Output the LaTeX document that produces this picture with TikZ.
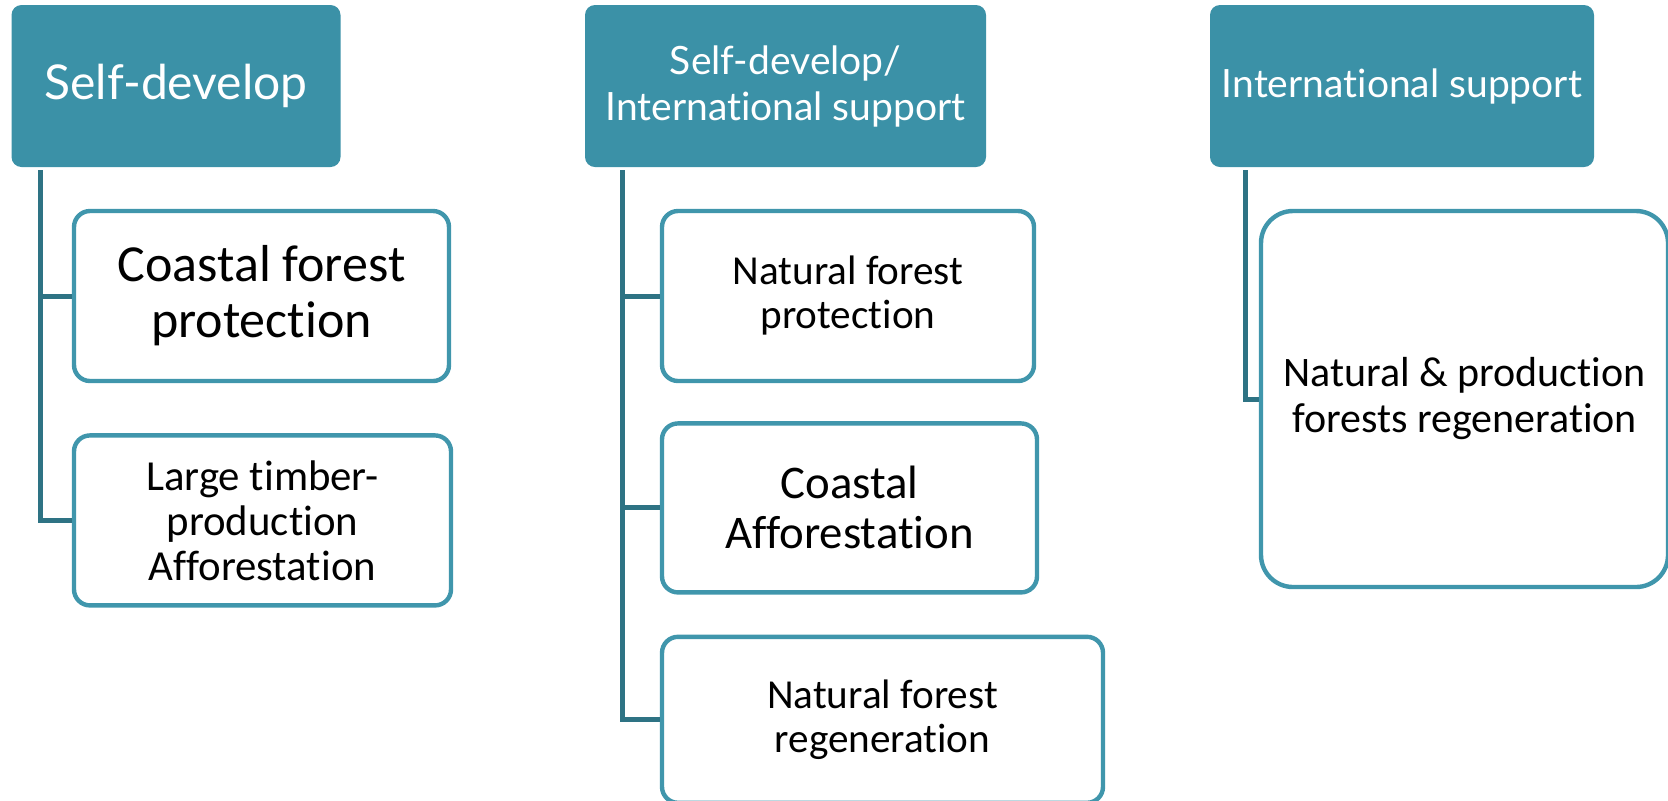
\documentclass[tikz,border=0pt]{standalone}
\usepackage{fontspec}
\setmainfont{Carlito}[Ligatures=NoCommon]
\newfontfamily\headfont{Lato}[Ligatures=NoCommon]
\usetikzlibrary{shapes, positioning}
\definecolor{headteal}{RGB}{59,145,167}
\definecolor{boxteal}{RGB}{64,150,172}
\definecolor{linkteal}{RGB}{46,115,132}
\tikzstyle{head} = [rectangle, rounded corners=5pt, fill=headteal, text=white, align=center, inner sep=0pt, minimum height=81pt]
\tikzstyle{leaf} = [rectangle, rounded corners=8pt, draw=boxteal, line width=2.2pt, fill=white, align=center, inner sep=0pt, minimum height=85pt]
\tikzstyle{line} = [draw=linkteal, line width=2.5pt]

\begin{document}
\begin{tikzpicture}
	\useasboundingbox (0,0) rectangle (834pt,-400pt);

	% headers
	\node[head, minimum width=164.5pt, font=\headfont\fontsize{24}{28}\selectfont] (selfdev) at (88pt,-43pt) {Self-develop};
	\node[head, minimum width=200.5pt, font=\headfont\fontsize{19.5}{23}\selectfont] (mixed) at (392.75pt,-43pt) {Self-develop/\\International support};
	\node[head, minimum width=192pt, font=\headfont\fontsize{19.5}{23}\selectfont] (intl) at (701pt,-43pt) {International support};

	% self-develop column
	\node[leaf, minimum width=187.5pt, font=\fontsize{26}{28}\selectfont] (coastprot) at (130.75pt,-148pt) {Coastal forest\\protection};
	\node[leaf, minimum width=188.5pt, font=\fontsize{21.4}{22.5}\selectfont, below=25pt of coastprot.south west, anchor=north west] (timber) {Large timber-\\production\\Afforestation};

	% mixed column
	\node[leaf, minimum width=186pt, font=\fontsize{20.6}{22}\selectfont] (natprot) at (424pt,-148pt) {Natural forest\\protection};
	\node[leaf, minimum width=187.5pt, minimum height=84.5pt, font=\fontsize{23.4}{25}\selectfont, below=19pt of natprot.south west, anchor=north west] (coastaff) {Coastal\\Afforestation};
	\node[leaf, minimum width=220.5pt, minimum height=83pt, font=\fontsize{20.6}{22}\selectfont, below=20pt of coastaff.south west, anchor=north west] (natregen) {Natural forest\\regeneration};

	% international column
	\node[leaf, rounded corners=16pt, minimum width=203.5pt, minimum height=188pt, font=\fontsize{21}{23}\selectfont] (prodregen) at (732.25pt,-199.5pt) {Natural \& production\\forests regeneration};

	\coordinate (selfdevtrunk) at (20pt,-85pt);
	\coordinate (mixedtrunk) at (311pt,-85pt);
	\coordinate (intltrunk) at (622.5pt,-85pt);

	\path [line] (selfdevtrunk) |- (coastprot.west);
	\path [line] (selfdevtrunk) |- (timber.west);

	\path [line] (mixedtrunk) |- (natprot.west);
	\path [line] (mixedtrunk) |- (coastaff.west);
	\path [line] (mixedtrunk) |- (natregen.west);

	\path [line] (intltrunk) |- (prodregen.west);
\end{tikzpicture}
\end{document}
